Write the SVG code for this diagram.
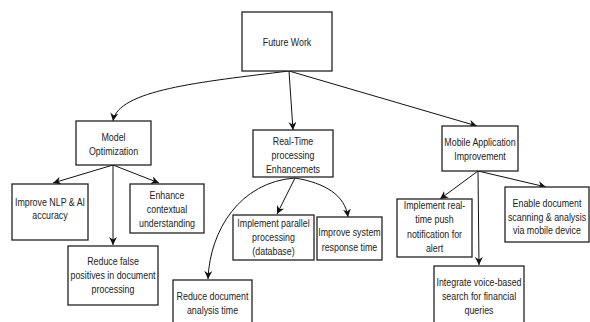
<svg xmlns="http://www.w3.org/2000/svg" width="590" height="322" viewBox="0 0 590 322">
<style>
.box{fill:#fff;stroke:#222;stroke-width:1.3}
.edge{fill:none;stroke:#111;stroke-width:1}
text{font-family:"Liberation Sans",Arial,sans-serif;font-size:11.5px;fill:#222;text-anchor:middle}
</style>
<defs>
<marker id="arr" viewBox="0 0 10 10" refX="10" refY="5" markerWidth="8" markerHeight="8" orient="auto" markerUnits="userSpaceOnUse">
<path d="M0,0 L10,5 L0,10 L3,5 z" fill="#111"/>
</marker>
</defs>
<rect width="590" height="322" fill="#fff"/>
<g id="connectors">
<path class="edge" marker-end="url(#arr)" d="M289,71 C200,82 118,90 113,121"/>
<path class="edge" marker-end="url(#arr)" d="M289,71 L293,130"/>
<path class="edge" marker-end="url(#arr)" d="M289,71 L477,126"/>
<path class="edge" marker-end="url(#arr)" d="M113,165 L53,183"/>
<path class="edge" marker-end="url(#arr)" d="M113,165 L159,183"/>
<path class="edge" marker-end="url(#arr)" d="M113,165 L113,245"/>
<path class="edge" marker-end="url(#arr)" d="M295,178 L277,214"/>
<path class="edge" marker-end="url(#arr)" d="M295,178 C325,183 345,195 348,217"/>
<path class="edge" marker-end="url(#arr)" d="M295,178 C240,182 210,230 208,279"/>
<path class="edge" marker-end="url(#arr)" d="M478,171 L440,199"/>
<path class="edge" marker-end="url(#arr)" d="M478,171 L546,187"/>
<path class="edge" marker-end="url(#arr)" d="M478,171 L479,265"/>
</g>
<g id="future-work">
<rect class="box" x="242" y="12" width="90" height="59"/>
<text transform="matrix(0.77,0,0,1,287,0)"><tspan x="0" y="46">Future Work</tspan></text>
</g>
<g id="model-optimization">
<rect class="box" x="76" y="121" width="75" height="44"/>
<text transform="matrix(0.77,0,0,1,113.5,0)"><tspan x="0" y="141">Model</tspan><tspan x="0" y="155">Optimization</tspan></text>
</g>
<g id="real-time">
<rect class="box" x="253" y="130" width="80" height="47"/>
<text transform="matrix(0.77,0,0,1,293,0)"><tspan x="0" y="145">Real-Time</tspan><tspan x="0" y="159">processing</tspan><tspan x="0" y="173">Enhancemets</tspan></text>
</g>
<g id="mobile">
<rect class="box" x="442" y="126" width="76" height="45"/>
<text transform="matrix(0.77,0,0,1,480,0)"><tspan x="0" y="146">Mobile Application</tspan><tspan x="0" y="160">Improvement</tspan></text>
</g>
<g id="improve-nlp">
<rect class="box" x="12" y="184" width="76" height="56"/>
<text transform="matrix(0.77,0,0,1,50,0)"><tspan x="0" y="206">Improve NLP &amp; AI</tspan><tspan x="0" y="219">accuracy</tspan></text>
</g>
<g id="enhance">
<rect class="box" x="130" y="184" width="74" height="49"/>
<text transform="matrix(0.77,0,0,1,167,0)"><tspan x="0" y="199">Enhance</tspan><tspan x="0" y="213">contextual</tspan><tspan x="0" y="227">understanding</tspan></text>
</g>
<g id="reduce-false">
<rect class="box" x="68" y="246" width="90" height="59"/>
<text transform="matrix(0.77,0,0,1,113,0)"><tspan x="0" y="265">Reduce false</tspan><tspan x="0" y="279">positives in document</tspan><tspan x="0" y="293">processing</tspan></text>
</g>
<g id="parallel">
<rect class="box" x="233" y="215" width="81" height="45"/>
<text transform="matrix(0.77,0,0,1,273.5,0)"><tspan x="0" y="227">Implement parallel</tspan><tspan x="0" y="241">processing</tspan><tspan x="0" y="255">(database)</tspan></text>
</g>
<g id="response-time">
<rect class="box" x="317" y="217" width="65" height="43"/>
<text transform="matrix(0.77,0,0,1,349.5,0)"><tspan x="0" y="236">Improve system</tspan><tspan x="0" y="251">response time</tspan></text>
</g>
<g id="reduce-doc">
<rect class="box" x="173" y="280" width="79" height="50"/>
<text transform="matrix(0.77,0,0,1,212.5,0)"><tspan x="0" y="300">Reduce document</tspan><tspan x="0" y="314">analysis time</tspan></text>
</g>
<g id="push">
<rect class="box" x="397" y="199" width="75" height="58"/>
<text transform="matrix(0.77,0,0,1,434.5,0)"><tspan x="0" y="209">Implement real-</tspan><tspan x="0" y="223">time push</tspan><tspan x="0" y="238">notification for</tspan><tspan x="0" y="252">alert</tspan></text>
</g>
<g id="enable">
<rect class="box" x="505" y="187" width="84" height="55"/>
<text transform="matrix(0.77,0,0,1,547,0)"><tspan x="0" y="207">Enable document</tspan><tspan x="0" y="221">scanning &amp; analysis</tspan><tspan x="0" y="234">via mobile device</tspan></text>
</g>
<g id="voice">
<rect class="box" x="434" y="266" width="90" height="64"/>
<text transform="matrix(0.77,0,0,1,479,0)"><tspan x="0" y="286">Integrate voice-based</tspan><tspan x="0" y="300">search for financial</tspan><tspan x="0" y="314">queries</tspan></text>
</g>
</svg>
